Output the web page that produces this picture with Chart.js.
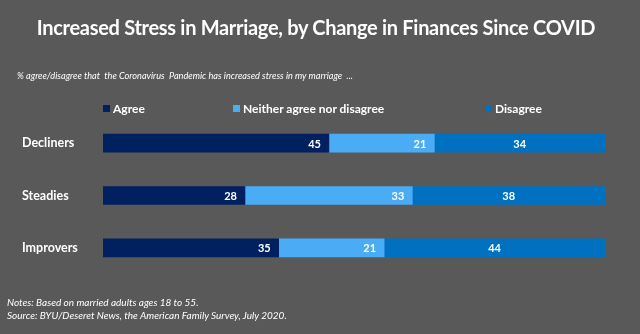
<!DOCTYPE html>
<html>
<head>
<meta charset="utf-8">
<script src="https://cdn.jsdelivr.net/npm/chart.js@4/dist/chart.umd.min.js"></script>
<style>
  html, body { margin: 0; padding: 0; }
  body { width: 640px; height: 334px; background: #595959; position: relative; overflow: hidden; font-family: Lato, "Open Sans", sans-serif; color: #fff; }
  #chart-wrap { position: absolute; left: 0; top: 0; width: 640px; height: 334px; }
  .title { position: absolute; left: -4px; width: 640px; top: 15px; text-align: center; font-size: 20px; font-weight: 700; letter-spacing: -0.3px; }
  .subtitle { position: absolute; left: 17px; top: 70px; font-size: 9.2px; font-style: italic; }
  .legend-item { position: absolute; top: 101px; font-size: 12px; font-weight: 700; white-space: nowrap; }
  .legend-item .swatch { display: inline-block; width: 7px; height: 7px; margin-right: 3px; vertical-align: 1px; }
  .notes { position: absolute; left: 7px; top: 296px; font-size: 10px; font-style: italic; line-height: 13px; }
</style>
</head>
<body>
<div id="chart-wrap"><canvas id="chart-stress" width="640" height="334"></canvas></div>
<div class="title">Increased Stress in Marriage, by Change in Finances Since COVID</div>
<div class="subtitle">% agree/disagree that&nbsp; the Coronavirus&nbsp; Pandemic has increased stress in my marriage &nbsp;...</div>
<div id="legend"></div>
<div class="notes">Notes: Based on married adults ages 18 to 55.<br>Source: BYU/Deseret News, the American Family Survey, July 2020.</div>
<script>
// Groups and responses
const groups = ['Decliners', 'Steadies', 'Improvers'];
const seriesNames = ['Agree', 'Neither agree nor disagree', 'Disagree'];
const agree = [45, 28, 35];
const neither = [21, 33, 21];
const disagree = [34, 38, 44];

const colors = ['#002060', '#4BACF6', '#0070C0'];
const legendLeft = [103, 233, 485];

const rawSeries = [agree, neither, disagree];
const rowTotals = groups.map((g, i) => agree[i] + neither[i] + disagree[i]);

// Build legend
document.getElementById('legend').innerHTML = seriesNames.map((name, i) => `
  <div class="legend-item" style="left:${legendLeft[i]}px">
    <span class="swatch" style="background:${colors[i]}"></span>${name}
  </div>`).join('');

// Value labels: first two segments right-aligned, last one centred
const segmentLabels = {
    id: 'segmentLabels',
    afterDatasetsDraw(chart) {
        const ctx = chart.ctx;
        ctx.save();
        ctx.font = 'bold 11px Lato, sans-serif';
        ctx.fillStyle = '#ffffff';
        ctx.textBaseline = 'middle';
        chart.data.datasets.forEach((ds, di) => {
            chart.getDatasetMeta(di).data.forEach((bar, i) => {
                const value = ds.raw[i];
                if (di === chart.data.datasets.length - 1) {
                    ctx.textAlign = 'center';
                    ctx.fillText(value, (bar.base + bar.x) / 2, bar.y + 1);
                } else {
                    ctx.textAlign = 'right';
                    ctx.fillText(value, bar.x - 8, bar.y + 1);
                }
            });
        });
        ctx.restore();
    }
};

const ctx = document.getElementById('chart-stress').getContext('2d');
new Chart(ctx, {
    type: 'bar',
    data: {
        labels: groups,
        datasets: rawSeries.map((values, si) => ({
            label: seriesNames[si],
            raw: values,
            data: values.map((v, i) => v / rowTotals[i] * 100),
            backgroundColor: colors[si],
            borderWidth: 0,
            barThickness: 18
        }))
    },
    options: {
        indexAxis: 'y',
        responsive: false,
        animation: false,
        layout: { padding: { left: 22, right: 35, top: 117, bottom: 60 } },
        plugins: {
            legend: { display: false },
            tooltip: { enabled: false }
        },
        scales: {
            x: { stacked: true, min: 0, max: 100, display: false },
            y: {
                stacked: true,
                grid: { display: false },
                border: { display: false },
                ticks: {
                    color: '#ffffff',
                    crossAlign: 'far',
                    font: { family: 'Lato', size: 12.5, weight: 'bold' }
                },
                afterFit(scale) { scale.width = 81; }
            }
        }
    },
    plugins: [segmentLabels]
});
</script>
</body>
</html>
